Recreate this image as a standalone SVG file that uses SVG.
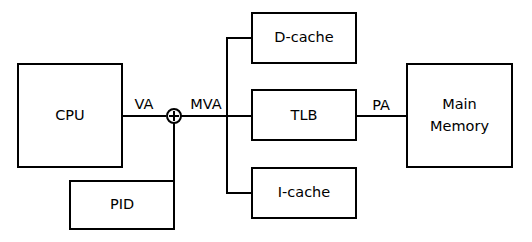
<svg xmlns="http://www.w3.org/2000/svg" width="532" height="242" viewBox="0 0 532 242">
<style>
.box{fill:#fff;stroke:#000;stroke-width:2}
.ln{fill:none;stroke:#000;stroke-width:2}
text{font-family:"DejaVu Sans",sans-serif;font-size:14.5px;fill:#000}
.c{text-anchor:middle}
</style>
<rect width="532" height="242" fill="#fff"/>
<g id="connectors">
<path class="ln" d="M122,116 H166 M181,116 H252"/>
<path class="ln" d="M174,123 V229"/>
<path class="ln" d="M252,38 H227 V193 H252"/>
<path class="ln" d="M356,116 H407"/>
<g id="adder">
<circle class="ln" cx="174" cy="116" r="7"/>
<path class="ln" d="M169,116 H179 M174,111 V121" stroke-width="1.5"/>
</g>
<text x="144" y="109" class="c">VA</text>
<text x="206" y="109" class="c">MVA</text>
<text x="381" y="110" class="c">PA</text>
</g>
<g id="cpu"><rect class="box" x="18" y="64" width="104" height="103"/><text x="70" y="120" class="c">CPU</text></g>
<g id="pid"><rect class="box" x="70" y="181" width="104" height="48"/><text x="122" y="209" class="c">PID</text></g>
<g id="dcache"><rect class="box" x="252" y="13" width="104" height="50"/><text x="304" y="42" class="c">D-cache</text></g>
<g id="tlb"><rect class="box" x="252" y="90" width="104" height="50"/><text x="304" y="120" class="c">TLB</text></g>
<g id="icache"><rect class="box" x="252" y="168" width="104" height="50"/><text x="304" y="197" class="c">I-cache</text></g>
<g id="mem"><rect class="box" x="407" y="64" width="105" height="103"/><text x="459.5" y="109" class="c">Main</text><text x="459.5" y="131" class="c">Memory</text></g>
</svg>
